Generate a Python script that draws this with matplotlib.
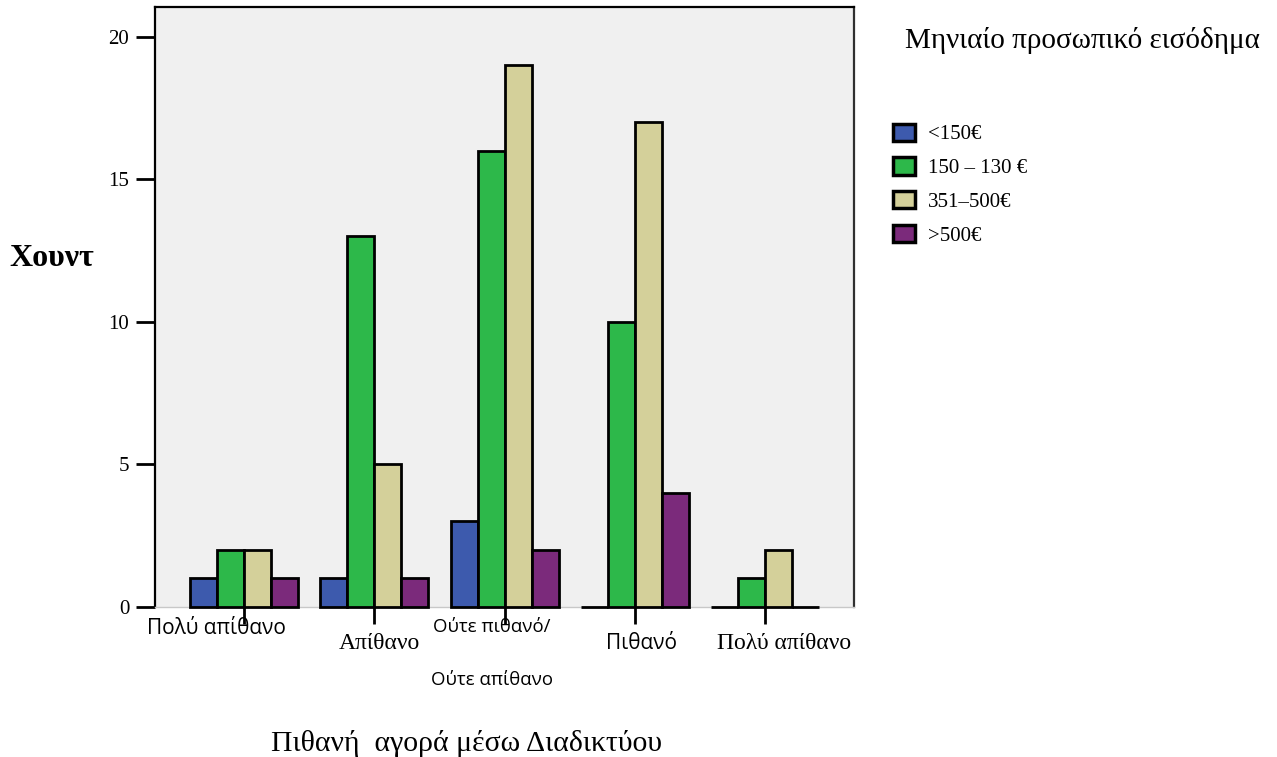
import numpy as np
import matplotlib
matplotlib.use("Agg")
import matplotlib.pyplot as plt
from matplotlib.transforms import ScaledTranslation
from matplotlib.patches import Patch

# Survey counts by likelihood of buying online, split by monthly income band
categories = ["Πολύ απίθανο", "Απίθανο", "Ούτε πιθανό/\n\nΟύτε απίθανο", "Πιθανό", "Πολύ απίθανο"]
income_bands = ["<150€", "150 – 130 €", "351–500€", ">500€"]
under_150 = [1, 1, 3, 0, 0]
band_150_130 = [2, 13, 16, 10, 1]
band_351_500 = [2, 5, 19, 17, 2]
over_500 = [1, 1, 2, 4, 0]
y_ticks = [0, 5, 10, 15, 20]

series = [under_150, band_150_130, band_351_500, over_500]
colors = ["#3d5aad", "#2db84a", "#d4d09a", "#7b2a7b"]

serif = "Liberation Serif"
sans = "Open Sans"

fig = plt.figure(figsize=(12.77, 7.57), dpi=100)
ax = fig.add_axes([0.1214, 0.1982, 0.5474, 0.7926])
ax.set_facecolor("#f0f0f0")

x = np.arange(len(categories))
width = 0.207
for i, (vals, col) in enumerate(zip(series, colors)):
    offs = (i - 1.5) * width
    ax.bar(x + offs, vals, width=width, color=col, edgecolor="black",
           linewidth=2, zorder=3, clip_on=False)

ax.set_xlim(-0.68, 4.68)
ax.set_ylim(0, 21.05)

ax.set_yticks(y_ticks)
ax.set_yticklabels([str(t) for t in y_ticks], fontfamily=serif, fontsize=15)
ax.set_xticks(x)
ax.set_xticklabels(categories)

ax.tick_params(axis="x", direction="out", length=12.5, width=2, color="black", pad=0)
ax.tick_params(axis="y", direction="out", length=13.5, width=2, color="black", pad=5)

for side in ("left", "top"):
    ax.spines[side].set_linewidth(1.6)
    ax.spines[side].set_color("black")
ax.spines["right"].set_linewidth(1.6)
ax.spines["right"].set_color("#303030")
ax.spines["bottom"].set_linewidth(1.0)
ax.spines["bottom"].set_color("#c8c8c8")

# Per-label font and placement of the category labels (offsets in pixels)
label_style = [
    (sans, 15, 1.0, -27, -4),
    (serif, 17, 1.0, 5, -19),
    (sans, 13.4, 1.6, -13, -29),
    (sans, 15, 1.0, 7, -19),
    (serif, 17, 1.0, 19, -19),
]
for lab, (fam, size, ls, dx, dy) in zip(ax.get_xticklabels(), label_style):
    lab.set_fontfamily(fam)
    lab.set_fontsize(size)
    lab.set_linespacing(ls)
    lab.set_verticalalignment("center")
    lab.set_transform(lab.get_transform() +
                      ScaledTranslation(dx / 100, dy / 100, fig.dpi_scale_trans))

ax.set_ylabel("Χουντ", fontfamily=serif, fontsize=23, fontweight="bold",
              rotation=0, labelpad=0, va="center", ha="center")
ax.yaxis.set_label_coords(-0.148, 0.58)

ax.set_xlabel("Πιθανή  αγορά μέσω Διαδικτύου", fontfamily=serif, fontsize=21.4,
              va="center")
ax.xaxis.set_label_coords(0.445, -0.227)

fig.text(0.709, 0.946, "Μηνιαίο προσωπικό εισόδημα", fontfamily=serif,
         fontsize=21, va="center", ha="left")

handles = [Patch(facecolor=c, edgecolor="black", linewidth=2.5) for c in colors]
fig.legend(handles, income_bands, loc="upper left",
           bbox_to_anchor=(0.6945, 0.845), frameon=False,
           prop={"family": serif, "size": 15}, handlelength=1.05,
           handleheight=0.9, handletextpad=0.6, labelspacing=0.62,
           borderaxespad=0.0, borderpad=0.3)

fig.savefig("out.png", dpi=100, facecolor="white")
